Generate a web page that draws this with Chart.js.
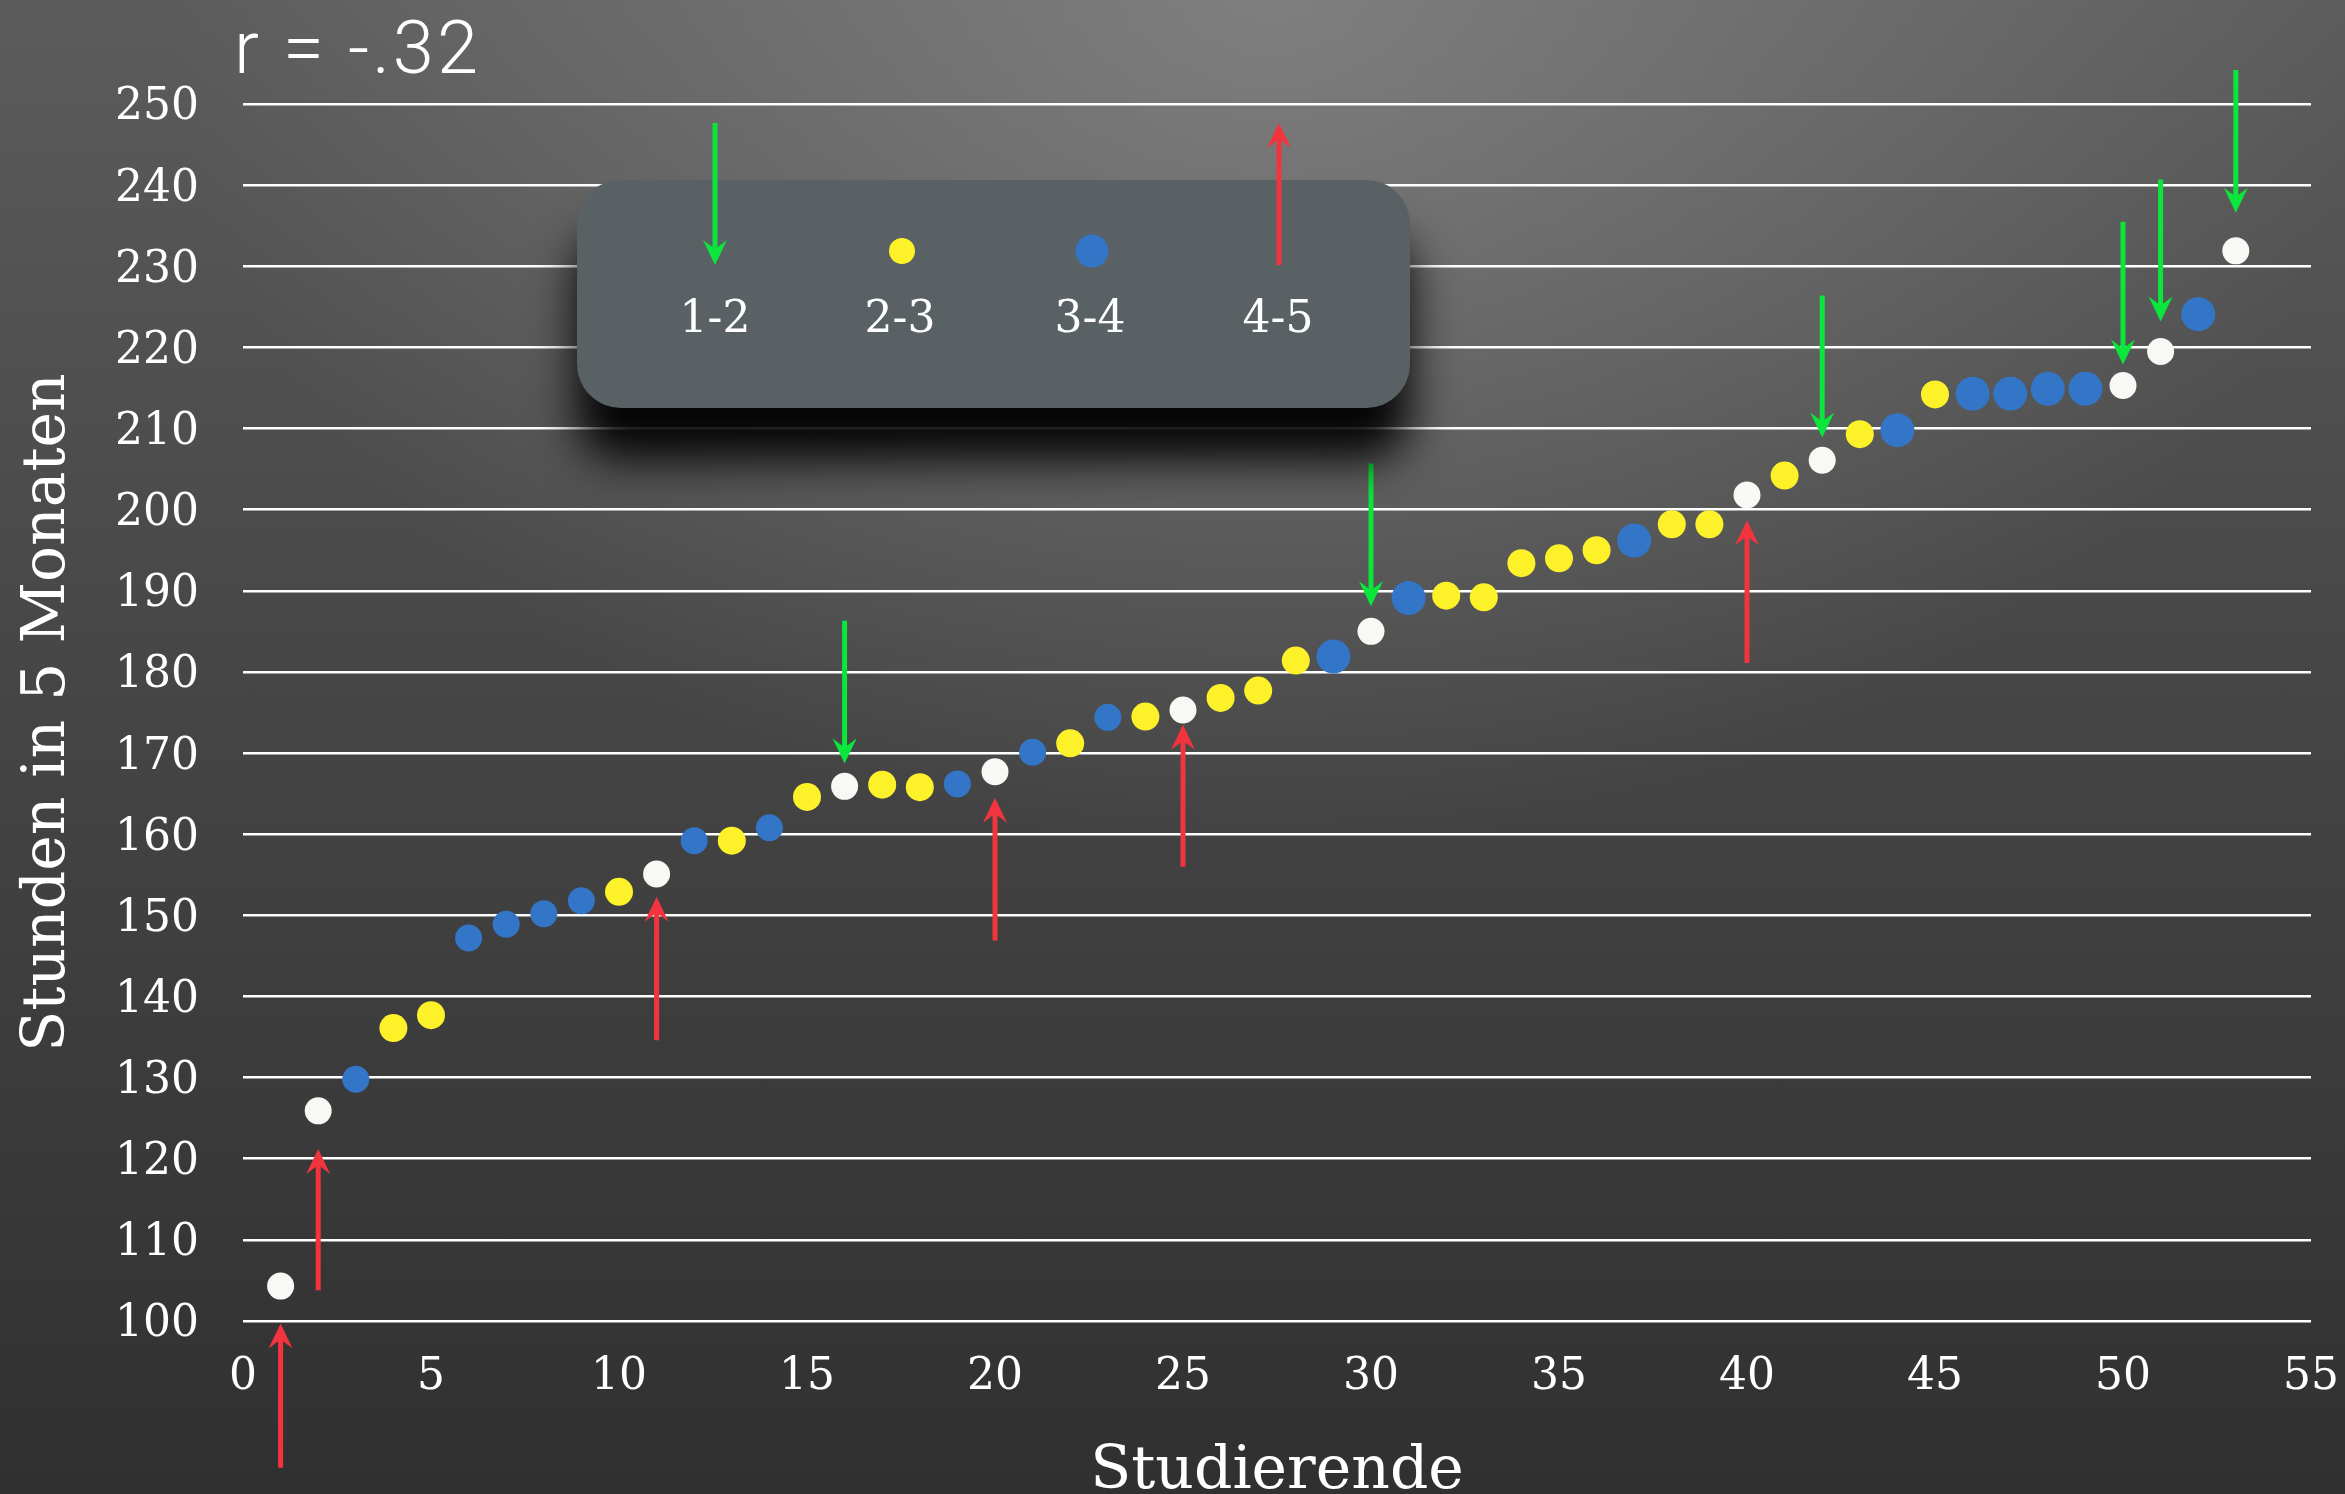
<!DOCTYPE html>
<html lang="de">
<head>
<meta charset="utf-8">
<title>Stunden in 5 Monaten</title>
<script src="https://cdn.jsdelivr.net/npm/chart.js@4.4.1/dist/chart.umd.min.js"></script>
<style>
  html, body { margin: 0; padding: 0; }
  body {
    width: 2345px; height: 1494px; overflow: hidden;
    background:
      radial-gradient(ellipse 1100px 850px at 1270px 0px, rgba(150,150,150,0.6), rgba(150,150,150,0) 100%),
      linear-gradient(#5c5c5c, #464646 45%, #303030 100%);
  }
</style>
</head>
<body>
<canvas id="chart" width="2345" height="1494"></canvas>
<script>
// Studierende (x), Stunden in 5 Monaten (y), Gruppe je Studierende
const studierende = [1, 2, 3, 4, 5, 6, 7, 8, 9, 10, 11, 12, 13, 14, 15, 16, 17, 18, 19, 20,
    21, 22, 23, 24, 25, 26, 27, 28, 29, 30, 31, 32, 33, 34, 35, 36, 37, 38, 39, 40,
    41, 42, 43, 44, 45, 46, 47, 48, 49, 50, 51, 52, 53];
const stunden = [104.3, 125.9, 129.8, 136.1, 137.7, 147.2, 148.9, 150.2, 151.8, 152.9,
    155.1, 159.2, 159.2, 160.8, 164.6, 165.9, 166.1, 165.8, 166.2, 167.7,
    170.1, 171.2, 174.4, 174.5, 175.3, 176.8, 177.7, 181.4, 181.9, 185.0,
    189.1, 189.4, 189.2, 193.4, 194.0, 195.0, 196.2, 198.2, 198.2, 201.8,
    204.2, 206.1, 209.3, 209.8, 214.2, 214.3, 214.3, 214.9, 214.9, 215.3,
    219.5, 224.1, 231.9];
const gruppe = ['4-5', '4-5', '3-4', '2-3', '2-3', '3-4', '3-4', '3-4', '3-4', '2-3',
    '4-5', '3-4', '2-3', '3-4', '2-3', '1-2', '2-3', '2-3', '3-4', '4-5',
    '3-4', '2-3', '3-4', '2-3', '4-5', '2-3', '2-3', '2-3', '3-4', '1-2',
    '3-4', '2-3', '2-3', '2-3', '2-3', '2-3', '3-4', '2-3', '2-3', '4-5',
    '2-3', '1-2', '2-3', '3-4', '2-3', '3-4', '3-4', '3-4', '3-4', '1-2',
    '1-2', '3-4', '1-2'];
const gruppen = ['1-2', '2-3', '3-4', '4-5'];

// Pfeile: x, Anfang und Spitze in Stunden
const gruenePfeileX = [16, 30, 42, 50, 51, 53];
const gruenePfeileVon = [186.3, 205.7, 226.4, 235.5, 240.7, 254.2];
const gruenePfeileBis = [168.7, 188.1, 208.9, 217.9, 223.2, 236.6];
const rotePfeileX = [1, 2, 11, 20, 25, 40];
const rotePfeileVon = [81.9, 103.8, 134.6, 146.9, 156.0, 181.1];
const rotePfeileBis = [99.7, 121.2, 152.3, 164.5, 173.5, 198.7];

const korrelation = 'r = -.32';

// Stil
const schrift = "'DejaVu Serif', serif";
const farben = { '1-2': '#f8f8f5', '2-3': '#fdf22a', '3-4': '#3376c8', '4-5': '#f8f8f5' };
const gruen = '#0be63c', rot = '#f2343f';
const grossePunkte = [29, 31, 37, 44, 46, 47, 48, 49, 52];

function pfeil(ctx, x, yVon, yBis, farbe) {
    const richtung = yBis > yVon ? 1 : -1;
    ctx.save();
    ctx.strokeStyle = farbe;
    ctx.fillStyle = farbe;
    ctx.lineWidth = 5;
    ctx.beginPath();
    ctx.moveTo(x, yVon);
    ctx.lineTo(x, yBis - richtung * 14);
    ctx.stroke();
    ctx.beginPath();
    ctx.moveTo(x, yBis);
    ctx.lineTo(x - 12, yBis - richtung * 25);
    ctx.lineTo(x, yBis - richtung * 16);
    ctx.lineTo(x + 12, yBis - richtung * 25);
    ctx.closePath();
    ctx.fill();
    ctx.restore();
}

const pfeilPlugin = {
    id: 'pfeile',
    afterDatasetsDraw(chart) {
        const { ctx, scales: { x, y } } = chart;
        gruenePfeileX.forEach((v, i) => {
            pfeil(ctx, x.getPixelForValue(v), y.getPixelForValue(gruenePfeileVon[i]),
                y.getPixelForValue(gruenePfeileBis[i]), gruen);
        });
        rotePfeileX.forEach((v, i) => {
            pfeil(ctx, x.getPixelForValue(v), y.getPixelForValue(rotePfeileVon[i]),
                y.getPixelForValue(rotePfeileBis[i]), rot);
        });
    }
};

const legendePlugin = {
    id: 'legende',
    afterDraw(chart) {
        const ctx = chart.ctx;
        ctx.save();
        ctx.shadowColor = 'rgba(0,0,0,0.95)';
        ctx.shadowBlur = 45;
        ctx.shadowOffsetY = 52;
        ctx.fillStyle = '#5a6164';
        ctx.beginPath();
        ctx.roundRect(577, 180, 833, 228, 44);
        ctx.fill();
        ctx.restore();

        pfeil(ctx, 715, 123, 265, gruen);
        ctx.save();
        ctx.fillStyle = farben['2-3'];
        ctx.beginPath();
        ctx.arc(902, 251, 13, 0, Math.PI * 2);
        ctx.fill();
        ctx.fillStyle = farben['3-4'];
        ctx.beginPath();
        ctx.arc(1092, 251, 16.5, 0, Math.PI * 2);
        ctx.fill();
        ctx.restore();
        pfeil(ctx, 1279, 265, 123, rot);

        ctx.save();
        ctx.fillStyle = '#ffffff';
        ctx.font = '44px ' + schrift;
        ctx.textAlign = 'center';
        ctx.textBaseline = 'middle';
        [715, 900, 1090, 1278].forEach((lx, i) => ctx.fillText(gruppen[i], lx, 321));
        ctx.restore();

        ctx.save();
        ctx.fillStyle = '#ffffff';
        ctx.font = '300 74px Roboto';
        ctx.letterSpacing = '3px';
        ctx.textBaseline = 'alphabetic';
        ctx.fillText(korrelation, 234, 73);
        ctx.restore();
    }
};

const datasets = gruppen.map(g => ({
    label: g,
    data: studierende.map((s, i) => ({ x: s, y: stunden[i] })).filter((p, i) => gruppe[i] === g),
    backgroundColor: farben[g],
    borderWidth: 0,
    pointRadius: c => (g === '3-4' && grossePunkte.includes(c.raw.x)) ? 17 : (g === '2-3' ? 14 : 13.5)
}));

const chart = new Chart(document.getElementById('chart').getContext('2d'), {
    type: 'scatter',
    data: { datasets: datasets },
    options: {
        responsive: false,
        animation: false,
        layout: { padding: { left: 0, right: 34, top: 104, bottom: 0 } },
        plugins: { legend: { display: false }, tooltip: { enabled: false } },
        scales: {
            x: {
                type: 'linear', min: 0, max: 55,
                ticks: { stepSize: 5, color: '#ffffff', padding: 0, font: { family: schrift, size: 44, lineHeight: 2.55 } },
                grid: { display: false, drawTicks: false },
                border: { display: false },
                title: {
                    display: true, text: 'Studierende', color: '#ffffff',
                    font: { family: schrift, size: 60, lineHeight: 1 }, padding: { top: 0, bottom: -8 }
                },
                afterFit(scale) { scale.height = 173; }
            },
            y: {
                min: 100, max: 250,
                ticks: { stepSize: 10, color: '#ffffff', padding: 44, labelOffset: 4, font: { family: schrift, size: 44 } },
                grid: { color: '#ffffff', lineWidth: 2.5, drawTicks: false },
                border: { display: false },
                title: {
                    display: true, text: 'Stunden in 5 Monaten', color: '#ffffff',
                    font: { family: schrift, size: 60, lineHeight: 1 }, padding: { top: 18, bottom: 0 }
                },
                afterFit(scale) { scale.width = 243; }
            }
        }
    },
    plugins: [pfeilPlugin, legendePlugin]
});
</script>
</body>
</html>
